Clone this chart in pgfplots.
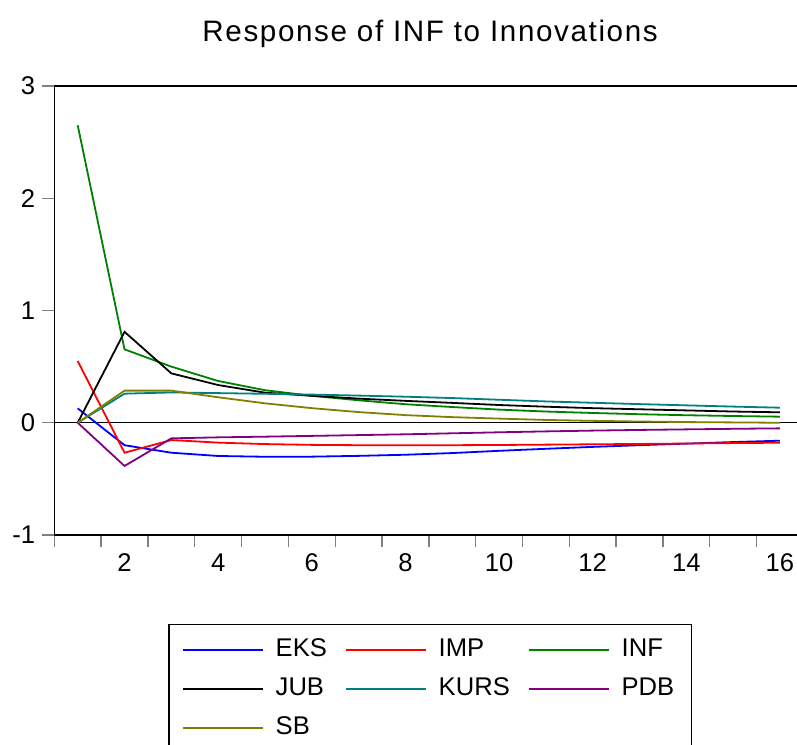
\documentclass[border=0pt]{standalone}
\usepackage{pgfplots}
\usepackage{pgfplotstable}
\pgfplotsset{compat=1.18}
\usepackage{fontspec}
\setmainfont{Liberation Sans}
\definecolor{cEKS}{RGB}{0,0,255}
\definecolor{cIMP}{RGB}{255,0,0}
\definecolor{cINF}{RGB}{0,128,0}
\definecolor{cJUB}{RGB}{0,0,0}
\definecolor{cKURS}{RGB}{0,128,128}
\definecolor{cPDB}{RGB}{128,0,128}
\definecolor{cSB}{RGB}{128,128,0}
\pgfplotstableread{
p EKS IMP INF JUB KURS PDB SB
1 0.128 0.55 2.65 0 0 0 0
2 -0.200 -0.267 0.654 0.81 0.259 -0.385 0.286
3 -0.267 -0.154 0.500 0.44 0.270 -0.139 0.286
4 -0.296 -0.177 0.372 0.336 0.264 -0.130 0.227
5 -0.303 -0.190 0.290 0.268 0.258 -0.124 0.173
6 -0.302 -0.197 0.240 0.240 0.251 -0.117 0.130
7 -0.295 -0.200 0.200 0.215 0.242 -0.110 0.095
8 -0.285 -0.200 0.165 0.195 0.232 -0.103 0.068
9 -0.270 -0.200 0.140 0.177 0.220 -0.094 0.050
10 -0.250 -0.198 0.117 0.158 0.205 -0.085 0.037
11 -0.232 -0.195 0.100 0.143 0.190 -0.077 0.025
12 -0.215 -0.192 0.087 0.130 0.178 -0.070 0.017
13 -0.200 -0.189 0.076 0.120 0.166 -0.064 0.011
14 -0.186 -0.185 0.067 0.110 0.155 -0.059 0.006
15 -0.172 -0.181 0.060 0.100 0.144 -0.054 0.003
16 -0.160 -0.178 0.054 0.093 0.134 -0.050 0.000
}\datatable
\begin{document}
\begin{tikzpicture}
\begin{axis}[
  name=ax,
  scale only axis,
  width=371.35pt, height=224.5pt,
  xmin=0.5, xmax=16.364,
  ymin=-1, ymax=3,
  axis x line=box,
  axis y line=left,
  y axis line style={-},
  axis line style={line width=0.7pt},
  xtick pos=bottom,
  tick align=outside,
  xtick={2,4,...,16},
  xticklabels={2,4,6,8,10,12,14,16},
  major x tick style={draw=none},
  minor xtick={0.5,1.5,...,15.5},
  minor tick length=6pt,
  minor x tick style={line width=0.7pt},
  ytick={-1,0,1,2,3},
  yticklabels={-1,0,1,2,3},
  major tick length=6pt,
  major y tick style={line width=0.7pt},
  tick label style={font=\fontsize{12.8}{15}\selectfont},
  /pgf/number format/assume math mode=true,
  title={Response of INF to Innovations},
  title style={at={(0.506,1)}, anchor=base, yshift=16pt, inner sep=0pt,
    font=\fontsize{14.8}{17}\selectfont\addfontfeatures{LetterSpace=5.5}},
  legend columns=3,
  legend cell align=left,
  legend image code/.code={\draw[#1] (0pt,0pt) -- (40pt,0pt);},
  legend style={at={(0.506,-0.198)}, anchor=north, draw=black, line width=0.7pt,
    font=\fontsize{12.8}{15}\selectfont,
    inner xsep=6.5pt, inner ysep=4.5pt, row sep=3.5pt,
    nodes={inner sep=2pt, text height=9.5pt, text depth=2.5pt},
    /tikz/every odd column/.append style={column sep=4pt},
    /tikz/every even column/.append style={column sep=7pt}},
  every axis plot/.append style={line width=0.9pt},
]
\addplot[black, line width=0.5pt, forget plot] coordinates {(0.5,0) (16.364,0)};
\addplot[cEKS] table[x=p,y=EKS] {\datatable};
\addlegendentry{EKS}
\addplot[cIMP] table[x=p,y=IMP] {\datatable};
\addlegendentry{IMP}
\addplot[cINF] table[x=p,y=INF] {\datatable};
\addlegendentry{INF}
\addplot[cJUB] table[x=p,y=JUB] {\datatable};
\addlegendentry{JUB}
\addplot[cKURS] table[x=p,y=KURS] {\datatable};
\addlegendentry{KURS}
\addplot[cPDB] table[x=p,y=PDB] {\datatable};
\addlegendentry{PDB}
\addplot[cSB] table[x=p,y=SB] {\datatable};
\addlegendentry{SB}
\end{axis}
\pgfresetboundingbox
\path[use as bounding box] ([xshift=-27.15pt,yshift=-104.5pt]ax.south west) rectangle ([yshift=43pt]ax.north east);
\end{tikzpicture}
\end{document}
